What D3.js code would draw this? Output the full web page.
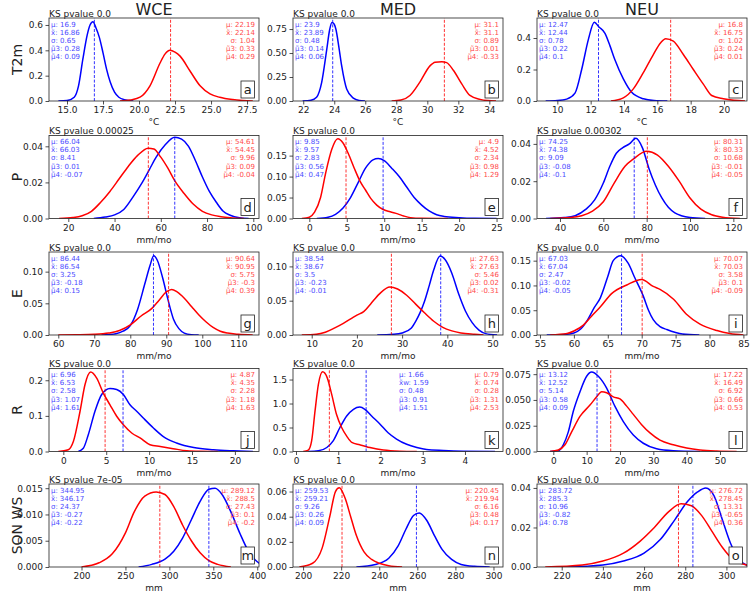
<!DOCTYPE html>
<meta charset="utf-8">
<style>
  body { margin: 0; background: #fff; }
  svg text { font-family: "DejaVu Sans", sans-serif; }
</style>
<body>
<div id="chart"></div>
<script src="https://cdn.jsdelivr.net/npm/d3@7/dist/d3.min.js"></script>
<script>
// ---- data ----
const regions = ["WCE", "MED", "NEU"];
const variables = ["T2m", "P", "E", "R", "SON WS"];
const units = ["°C", "mm/mo", "mm/mo", "mm/mo", "mm"];
const letters = ["a","b","c","d","e","f","g","h","i","j","k","l","m","n","o"];
const ksPvalues = ["0.0","0.0","0.0","0.00025","0.0","0.00302","0.0","0.0","0.0","0.0","0.0","0.0","7e-05","0.0","0.0"];
const statNames = ["μ", "x̃", "σ", "μ̃3", "μ̃4"];

// mean, median, std, skew, kurtosis
const blueStats = [
  [16.9, 16.86, 0.65, 0.28, 0.09],
  [23.9, 23.89, 0.48, 0.14, 0.06],
  [12.47, 12.44, 0.78, 0.22, 0.1],
  [66.04, 66.03, 8.41, 0.01, -0.07],
  [9.85, 9.57, 2.83, 0.56, 0.47],
  [74.25, 74.38, 9.09, -0.08, -0.1],
  [86.44, 86.54, 3.25, -0.18, 0.15],
  [38.54, 38.67, 3.5, -0.23, -0.01],
  [67.03, 67.04, 2.47, -0.02, -0.05],
  [6.96, 6.53, 2.58, 1.07, 1.61],
  [1.66, 1.59, 0.48, 0.91, 1.51],
  [13.12, 12.52, 5.14, 0.58, 0.09],
  [344.95, 346.17, 24.37, -0.27, -0.22],
  [259.53, 259.21, 9.26, 0.26, 0.09],
  [283.72, 285.3, 10.96, -0.82, 0.78]
];
const redStats = [
  [22.19, 22.14, 1.04, 0.33, 0.29],
  [31.1, 31.1, 0.89, 0.01, -0.33],
  [16.8, 16.75, 1.02, 0.24, 0.01],
  [54.61, 54.45, 9.96, 0.09, -0.04],
  [4.9, 4.52, 2.34, 0.98, 1.29],
  [80.31, 80.33, 10.68, -0.01, -0.05],
  [90.64, 90.95, 5.75, -0.3, 0.39],
  [27.63, 27.63, 5.46, 0.02, -0.31],
  [70.07, 70.03, 3.58, 0.1, -0.09],
  [4.87, 4.35, 2.28, 1.18, 1.63],
  [0.79, 0.74, 0.28, 1.31, 2.53],
  [17.22, 16.49, 6.92, 0.66, 0.53],
  [289.12, 288.5, 27.43, 0.1, -0.2],
  [220.45, 219.94, 6.16, 0.48, 0.17],
  [276.72, 278.45, 13.31, -0.65, 0.36]
];

// density curves [x, density]
const blueCurves = [
  [[14.4,0],[15.0,0.004],[15.5,0.03],[15.8,0.12],[16.1,0.33],[16.4,0.52],[16.6,0.6],[16.8,0.625],[17.0,0.58],[17.25,0.5],[17.5,0.38],[17.75,0.25],[18.0,0.15],[18.3,0.07],[18.6,0.03],[19.0,0.01],[19.6,0]],
  [[21.96,0],[22.5,0.008],[22.86,0.04],[23.19,0.195],[23.51,0.53],[23.7,0.74],[23.85,0.818],[24.0,0.8],[24.11,0.745],[24.3,0.56],[24.48,0.365],[24.8,0.125],[25.23,0.03],[25.6,0.006],[25.98,0]],
  [[9.3,0],[10.0,0.003],[10.56,0.012],[11.06,0.05],[11.46,0.2],[11.86,0.39],[12.22,0.5],[12.5,0.47],[12.86,0.43],[13.16,0.35],[13.46,0.26],[13.96,0.14],[14.46,0.055],[15.16,0.014],[15.8,0.003],[16.6,0]],
  [[31,0],[36,0.0008],[40,0.002],[44,0.005],[48,0.012],[52,0.02],[55,0.027],[58,0.034],[62,0.041],[66,0.045],[69,0.044],[72,0.04],[75,0.032],[78,0.023],[81,0.015],[84,0.009],[87,0.004],[90,0.0018],[94,0.0004],[98,0]],
  [[1,0],[2.5,0.003],[3.5,0.01],[4.5,0.025],[5.5,0.05],[6.5,0.085],[7.5,0.12],[8.5,0.14],[9.2,0.143],[10,0.138],[11,0.12],[12,0.1],[13,0.075],[14,0.05],[15,0.032],[16,0.018],[17,0.009],[18,0.005],[20,0.002],[22,0.0005],[25,0]],
  [[33.5,0],[42,0.0005],[47,0.0015],[52,0.005],[56,0.01],[60,0.019],[63,0.028],[66,0.035],[69,0.038],[72,0.04],[75,0.043],[78,0.038],[81,0.027],[84,0.018],[87,0.011],[90,0.006],[93,0.003],[96,0.0015],[100,0.0005],[107,0]],
  [[72,0],[76,0.002],[78,0.006],[80,0.015],[82,0.04],[84,0.08],[85.5,0.11],[86.5,0.125],[87.5,0.118],[89,0.09],[90.5,0.055],[92,0.025],[93.5,0.01],[95,0.003],[97,0.0005],[99,0]],
  [[24.5,0],[28,0.001],[30,0.003],[32,0.01],[33,0.02],[34,0.033],[35,0.05],[36,0.072],[37,0.095],[38.4,0.115],[39.5,0.11],[41,0.09],[42.5,0.06],[44,0.035],[45.5,0.018],[47,0.007],[48.5,0.002],[51,0]],
  [[56,0],[58.5,0.001],[60,0.004],[61,0.012],[62,0.03],[63,0.055],[63.9,0.075],[65,0.118],[65.8,0.15],[66.9,0.16],[68,0.145],[69,0.115],[70.25,0.078],[71,0.05],[71.7,0.031],[72.7,0.017],[73.7,0.011],[75,0.005],[76,0.002],[78.5,0]],
  [[1.75,0],[2.33,0.009],[2.91,0.047],[3.69,0.113],[4.47,0.16],[5.44,0.177],[6.22,0.174],[7.0,0.16],[7.77,0.131],[8.55,0.113],[9.32,0.094],[10.5,0.066],[11.66,0.042],[13.2,0.024],[15.2,0.011],[17.5,0.005],[19.8,0.002],[22.1,0]],
  [[0.29,0],[0.53,0.014],[0.73,0.083],[0.88,0.22],[1.04,0.5],[1.2,0.74],[1.36,0.88],[1.51,0.925],[1.63,0.88],[1.79,0.74],[1.99,0.57],[2.18,0.39],[2.38,0.26],[2.62,0.15],[2.86,0.083],[3.09,0.04],[3.49,0.02],[3.96,0.006],[4.71,0]],
  [[-1,0],[1.5,0.0007],[3,0.0065],[4.5,0.019],[6,0.039],[8,0.058],[10,0.073],[11.5,0.077],[13.5,0.073],[16,0.0615],[18.5,0.0437],[21,0.029],[24,0.016],[27,0.008],[31,0.0026],[36,0.0007],[44,0]],
  [[265,0],[280,0.0005],[295,0.0015],[305,0.003],[315,0.0055],[325,0.009],[335,0.0125],[345,0.0148],[352,0.015],[360,0.0138],[370,0.0105],[380,0.0065],[390,0.003],[400,0.001],[412,0]],
  [[228,0],[238,0.002],[245,0.007],[250,0.017],[254,0.03],[258,0.041],[261,0.043],[265,0.037],[269,0.025],[273,0.014],[278,0.006],[283,0.002],[290,0.0005],[298,0]],
  [[222,0],[240,0.001],[250,0.003],[260,0.007],[268,0.014],[275,0.024],[281,0.033],[286,0.038],[290,0.04],[294,0.036],[298,0.024],[302,0.012],[306,0.004],[312,0]]
];
const redCurves = [
  [[18.68,0],[19.4,0.008],[20.07,0.03],[20.76,0.12],[21.46,0.3],[21.8,0.37],[22.15,0.4],[22.5,0.385],[22.85,0.354],[23.54,0.237],[24.24,0.12],[24.93,0.056],[25.6,0.029],[26.5,0.011],[27.2,0.004],[27.9,0]],
  [[27.7,0],[28.3,0.01],[28.88,0.058],[29.53,0.2],[30.17,0.366],[30.5,0.405],[30.93,0.41],[31.25,0.4],[31.68,0.32],[32.22,0.178],[32.75,0.058],[33.4,0.017],[33.9,0.004],[34.43,0]],
  [[13.22,0],[13.96,0.02],[14.56,0.077],[15.16,0.18],[15.76,0.295],[16.2,0.37],[16.5,0.396],[16.96,0.38],[17.56,0.295],[18.16,0.2],[18.76,0.107],[19.26,0.035],[19.96,0.014],[20.6,0.004],[21.26,0]],
  [[16,0],[22,0.0005],[26,0.0015],[30,0.004],[34,0.009],[38,0.015],[42,0.022],[46,0.029],[50,0.035],[54.5,0.039],[57,0.0385],[60,0.034],[63,0.028],[66,0.021],[70,0.014],[74,0.008],[78,0.004],[82,0.002],[86,0.001],[90,0.0004],[96,0]],
  [[-1,0],[0,0.003],[0.7,0.015],[1.5,0.05],[2.2,0.11],[3.0,0.165],[3.8,0.19],[4.5,0.18],[5.2,0.155],[6.0,0.12],[6.8,0.088],[7.5,0.068],[8.2,0.048],[9.0,0.032],[9.8,0.022],[10.8,0.016],[11.8,0.011],[12.6,0.006],[13.5,0.002],[15,0.0003],[18.5,0]],
  [[35.5,0],[45,0.0005],[50,0.0015],[55,0.004],[60,0.009],[65,0.019],[70,0.028],[74,0.032],[80,0.036],[85,0.034],[90,0.028],[95,0.02],[100,0.011],[105,0.005],[110,0.002],[115,0.0007],[123,0]],
  [[60,0],[65,0.0003],[70,0.001],[74,0.003],[77,0.007],[80,0.016],[83,0.03],[86,0.042],[88,0.055],[90,0.068],[91.5,0.072],[93,0.068],[95,0.058],[97,0.045],[99,0.032],[101,0.021],[103,0.012],[105,0.006],[107,0.003],[110,0.001],[114,0]],
  [[7.8,0],[11,0.001],[13,0.004],[15,0.01],[17,0.017],[19,0.025],[20,0.029],[21.5,0.034],[23,0.045],[25,0.06],[27.3,0.07],[29,0.067],[31,0.058],[33,0.045],[35,0.032],[37,0.02],[39,0.011],[41,0.006],[43,0.003],[46,0.001],[48,0]],
  [[56.5,0],[59,0.003],[60,0.008],[61.4,0.02],[62.6,0.038],[63.85,0.056],[65.6,0.084],[67.8,0.101],[70,0.112],[71.7,0.098],[72.7,0.092],[74.7,0.072],[76.6,0.042],[78.6,0.022],[81.1,0.009],[83,0.003],[85,0]],
  [[-0.58,0],[0.58,0.005],[1.17,0.028],[1.95,0.113],[2.53,0.188],[3.19,0.223],[3.89,0.206],[4.66,0.164],[5.44,0.131],[6.22,0.099],[7.0,0.075],[7.97,0.052],[8.94,0.038],[10.1,0.019],[11.3,0.014],[12.8,0.008],[14.4,0.002],[15.9,0.0005],[18,0]],
  [[0.17,0],[0.29,0.028],[0.37,0.22],[0.45,0.84],[0.53,1.4],[0.63,1.66],[0.74,1.535],[0.845,1.19],[0.96,0.77],[1.08,0.5],[1.2,0.32],[1.32,0.19],[1.51,0.14],[1.75,0.083],[2.07,0.03],[2.46,0.006],[2.86,0]],
  [[-1,0],[1.5,0.0014],[3.5,0.0065],[5.5,0.019],[8,0.034],[11,0.045],[13,0.053],[14.5,0.058],[16,0.057],[18,0.053],[20,0.051],[22,0.044],[24,0.036],[26.5,0.026],[29,0.018],[32,0.011],[36,0.0065],[40,0.0033],[44,0.0014],[49,0.0004],[55,0]],
  [[200,0],[220,0.0008],[235,0.0025],[250,0.0065],[260,0.0105],[272,0.0135],[285,0.0143],[295,0.0138],[305,0.0115],[315,0.008],[325,0.005],[335,0.0027],[345,0.0012],[355,0.0005],[370,0]],
  [[198,0],[205,0.003],[210,0.015],[214,0.04],[217,0.06],[219,0.063],[222,0.055],[225,0.04],[228,0.025],[232,0.012],[236,0.006],[240,0.003],[245,0.001],[252,0]],
  [[212,0],[230,0.001],[240,0.003],[250,0.007],[258,0.013],[265,0.02],[272,0.028],[278,0.032],[283,0.031],[288,0.026],[293,0.018],[298,0.01],[303,0.004],[310,0.001],[318,0]]
];

// axis limits and ticks
const xDomains = [
  [13.75, 28.33], [21.34, 34.88], [8.78, 21.38],
  [11.65, 102.47], [-2.18, 25.86], [29.39, 126.3],
  [57.42, 115.75], [5.86, 52.32], [54.56, 85.53],
  [-1.67, 22.81], [-0.071, 4.9], [-4.89, 58.1],
  [163, 402], [194.7, 305], [208, 310]
];
const yMax = [0.655, 0.865, 0.527, 0.046, 0.198, 0.0445, 0.131, 0.121, 0.1675, 0.233, 1.73, 0.0805, 0.0158, 0.066, 0.042];
const xTicks = [
  [15, 17.5, 20, 22.5, 25, 27.5], [22, 24, 26, 28, 30, 32, 34], [10, 12, 14, 16, 18, 20],
  [20, 40, 60, 80, 100], [0, 5, 10, 15, 20, 25], [40, 60, 80, 100, 120],
  [60, 70, 80, 90, 100, 110], [10, 20, 30, 40, 50], [55, 60, 65, 70, 75, 80, 85],
  [0, 5, 10, 15, 20], [0, 1, 2, 3, 4], [0, 10, 20, 30, 40, 50],
  [200, 250, 300, 350, 400], [200, 220, 240, 260, 280, 300], [220, 240, 260, 280, 300]
];
const yTicks = [
  [0, 0.2, 0.4, 0.6], [0, 0.25, 0.5, 0.75], [0, 0.2, 0.4],
  [0, 0.02, 0.04], [0, 0.05, 0.1, 0.15], [0, 0.02, 0.04],
  [0, 0.05, 0.1], [0, 0.05, 0.1], [0, 0.05, 0.1, 0.15],
  [0, 0.1, 0.2], [0, 0.5, 1, 1.5], [0, 0.025, 0.05, 0.075],
  [0, 0.005, 0.01, 0.015], [0, 0.02, 0.04, 0.06], [0, 0.02, 0.04]
];
const xFormats = [".1f","d","d","d","d","d","d","d","d","d","d","d","d","d","d"];
const yFormats = [".1f",".2f",".1f",".2f",".2f",".2f",".2f",".2f",".2f",".1f",".1f",".3f",".3f",".2f",".2f"];

// ---- layout ----
const colX = [49, 293, 537], rowY = [18, 135.5, 252, 368.5, 484];
const pw = 210, ph = 83;
const blue = "#0000ff", red = "#ff0000", ink = "#222";

const svg = d3.select("#chart").append("svg")
  .attr("width", 750).attr("height", 595);

regions.forEach((name, c) => {
  svg.append("text")
    .attr("x", colX[c] + pw / 2).attr("y", 15)
    .attr("text-anchor", "middle")
    .style("font-size", "16px").attr("fill", ink)
    .text(name);
});

variables.forEach((name, r) => {
  svg.append("text")
    .attr("transform", `translate(22,${rowY[r] + ph / 2}) rotate(-90)`)
    .attr("text-anchor", "middle")
    .style("font-size", "14px").attr("fill", ink)
    .text(name);
  colX.forEach(cx => {
    svg.append("text")
      .attr("x", cx + pw / 2).attr("y", rowY[r] + ph + 24)
      .attr("text-anchor", "middle")
      .style("font-size", "9px").attr("fill", ink)
      .text(units[r]);
  });
});

letters.forEach((letter, i) => {
  const r = Math.floor(i / 3), c = i % 3;
  const g = svg.append("g").attr("transform", `translate(${colX[c]},${rowY[r]})`);
  const x = d3.scaleLinear().domain(xDomains[i]).range([0, pw]);
  const y = d3.scaleLinear().domain([0, yMax[i]]).range([ph, 0]);

  g.append("clipPath").attr("id", "clip" + i)
    .append("rect").attr("width", pw).attr("height", ph);
  const plot = g.append("g").attr("clip-path", `url(#clip${i})`);

  const line = d3.line().x(d => x(d[0])).y(d => y(d[1])).curve(d3.curveMonotoneX);

  [[blueCurves[i], blue], [redCurves[i], red]].forEach(([pts, col]) => {
    plot.append("path").attr("d", line(pts))
      .attr("fill", "none").attr("stroke", col).attr("stroke-width", 1.5);
  });

  [[blueStats[i][0], blue], [redStats[i][0], red]].forEach(([mu, col]) => {
    plot.append("line")
      .attr("x1", x(mu)).attr("x2", x(mu)).attr("y1", y(0)).attr("y2", 0)
      .attr("stroke", col).attr("stroke-width", 1).attr("stroke-opacity", 0.8)
      .attr("stroke-dasharray", "3,1.6");
  });

  // axes
  const xa = g.append("g").attr("transform", `translate(0,${ph})`)
    .call(d3.axisBottom(x).tickValues(xTicks[i]).tickFormat(d3.format(xFormats[i]))
      .tickSizeInner(3.5).tickSizeOuter(0).tickPadding(2.5));
  const ya = g.append("g")
    .call(d3.axisLeft(y).tickValues(yTicks[i]).tickFormat(d3.format(yFormats[i]))
      .tickSizeInner(3.5).tickSizeOuter(0).tickPadding(2.5));
  [xa, ya].forEach(a => {
    a.attr("font-family", null).attr("font-size", null);
    a.select(".domain").remove();
    a.selectAll(".tick line").attr("stroke", ink).attr("stroke-width", 0.8);
    a.selectAll(".tick text").attr("fill", ink).style("font-size", "9px");
  });

  g.append("rect").attr("width", pw).attr("height", ph)
    .attr("fill", "none").attr("stroke", ink).attr("stroke-width", 0.8);

  g.append("text").attr("x", 0).attr("y", -1.5)
    .style("font-size", "9px").attr("fill", ink)
    .text("KS pvalue " + ksPvalues[i]);

  // statistics
  const bx = letter === "k" ? pw / 2 + 1 : 2;
  statNames.forEach((nm, j) => {
    const bName = (letter === "k" && j === 1) ? "x̃w" : nm;
    g.append("text").attr("x", bx).attr("y", 8.5 + j * 8.2)
      .style("font-size", "7px").attr("fill", "#4a4aff")
      .text(bName + ": " + blueStats[i][j]);
    g.append("text").attr("x", pw - 4).attr("y", 8.5 + j * 8.2)
      .attr("text-anchor", "end")
      .style("font-size", "7px").attr("fill", "#ff4a4a")
      .text(nm + ": " + redStats[i][j]);
  });

  // panel letter box
  const lb = g.append("g").attr("transform", `translate(${pw - 18},${ph - 20})`);
  lb.append("rect").attr("width", 13.5).attr("height", 17)
    .attr("fill", "#fff").attr("stroke", ink).attr("stroke-width", 0.8);
  lb.append("text").attr("x", 6.75).attr("y", 13)
    .attr("text-anchor", "middle").style("font-size", "13px").attr("fill", ink)
    .text(letter);
});
</script>
</body>
